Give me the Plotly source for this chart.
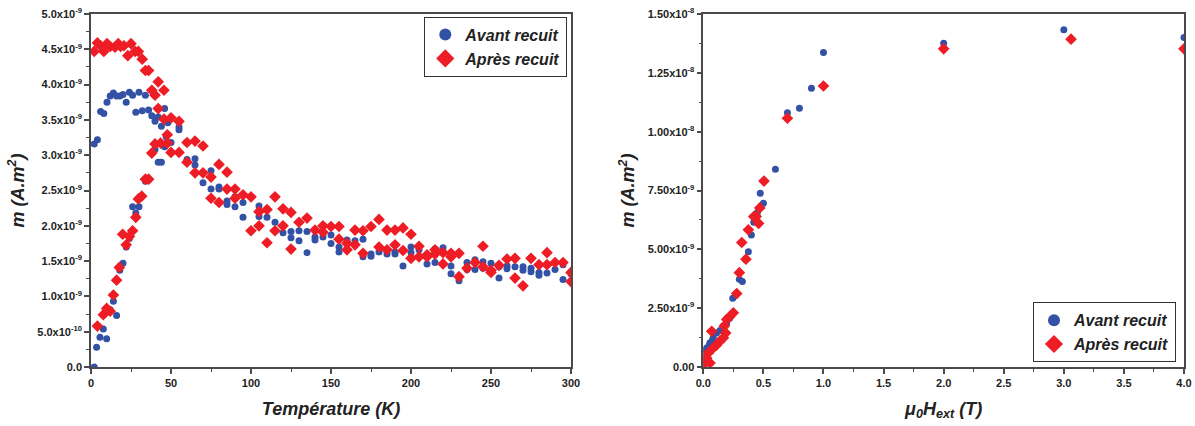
import plotly.graph_objects as go

# ---------------- Data (m in units of 1e-9 A.m^2) ----------------
# Left panel: m versus temperature
T_avant = [2, 4, 6, 8, 10, 12, 14, 16, 18, 20, 22, 24, 26, 28, 30, 32, 34, 36, 38, 40,
           42, 44, 46, 48, 55, 55, 60, 65, 65, 70, 75, 75, 80, 80, 85, 85, 90, 90, 95, 95,
           105, 105, 110, 115, 120, 125, 125, 130, 130, 135, 135, 140, 140, 145, 150, 150,
           155, 155, 160, 165, 170, 170, 175, 175, 180, 185, 190, 190, 195, 200, 200, 205,
           205, 210, 215, 215, 220, 220, 225, 225, 230, 235, 235, 240, 240, 245, 245, 250,
           255, 255, 260, 260, 265, 270, 270, 275, 275, 280, 280, 285, 290, 295, 295, 300,
           2, 3.5, 5.6, 7.7, 9.8, 12, 14, 16, 18, 20, 22, 24, 26, 28, 30, 34, 36, 40, 42, 44,
           46, 47, 50]
m_avant = [3.16, 3.22, 3.62, 3.59, 3.75, 3.84, 3.88, 3.84, 3.84, 3.86, 3.75, 3.89, 3.85, 3.61,
           3.89, 3.63, 3.85, 3.64, 3.56, 3.48, 3.54, 3.41, 3.66, 3.46, 3.40, 3.36, 2.94, 2.95,
           2.86, 2.61, 2.78, 2.52, 2.55, 2.52, 2.35, 2.30, 2.41, 2.27, 2.33, 2.12, 2.28, 2.13,
           2.12, 2.05, 1.90, 1.92, 1.83, 1.93, 1.79, 1.92, 1.62, 1.84, 1.80, 1.84, 1.87, 1.75,
           1.70, 1.63, 1.80, 1.79, 1.81, 1.56, 1.60, 1.57, 1.63, 1.60, 1.63, 1.60, 1.43, 1.70,
           1.62, 1.66, 1.56, 1.46, 1.48, 1.67, 1.69, 1.62, 1.43, 1.32, 1.22, 1.48, 1.38, 1.52,
           1.38, 1.49, 1.40, 1.47, 1.26, 1.42, 1.43, 1.39, 1.42, 1.42, 1.37, 1.40, 1.35, 1.34,
           1.30, 1.33, 1.38, 1.24, 1.45, 1.32,
           0.00, 0.28, 0.42, 0.54, 0.40, 0.81, 0.93, 0.73, 1.37, 1.47, 1.70, 1.82, 2.27, 2.18,
           2.27, 2.63, 2.65, 3.08, 2.90, 2.90, 3.12, 3.26, 3.18]

T_apres = [2, 4, 6, 8, 10, 12, 15, 17, 18.5, 20.6, 23, 25, 27.5, 29.6, 32, 34, 36, 38, 40,
           42, 42, 45.6, 45.6, 47.7, 50, 55, 60, 65, 70, 60, 65, 70, 75, 80, 85, 85, 90, 95,
           100, 105, 110, 115, 120, 125, 130, 135, 140, 145, 150, 155, 160, 165, 170, 175, 180,
           185, 190, 195, 200, 205, 210, 215, 220, 225, 230, 235, 240, 245, 250, 255, 260, 265,
           270, 275, 280, 285, 290, 295, 300,
           4, 7.7, 9.8, 12, 14, 16, 17.7, 19.8, 22, 24, 26, 28, 29.6, 31.7, 34, 36, 38, 40,
           43.5, 47.7, 50, 55, 75, 80, 90, 100, 105, 110, 115, 120, 125, 145, 155, 160, 165,
           170, 180, 185, 190, 195, 200, 205, 210, 215, 220, 225, 230, 245, 250, 265, 285, 300]
m_apres = [4.47, 4.59, 4.55, 4.47, 4.58, 4.54, 4.53, 4.58, 4.54, 4.55, 4.41, 4.58, 4.47, 4.47,
           4.36, 4.20, 4.20, 3.92, 3.85, 4.04, 3.66, 3.92, 3.51, 3.29, 3.53, 3.48, 3.18, 3.20,
           3.13, 2.90, 2.75, 2.75, 2.69, 2.87, 2.76, 2.52, 2.52, 2.44, 2.41, 2.20, 2.23, 2.41,
           2.24, 2.19, 2.05, 2.11, 1.94, 2.00, 1.99, 1.99, 1.75, 1.94, 1.93, 1.99, 2.09, 1.94,
           1.94, 1.97, 1.88, 1.71, 1.56, 1.66, 1.62, 1.61, 1.61, 1.40, 1.48, 1.71, 1.37, 1.44,
           1.53, 1.54, 1.15, 1.54, 1.45, 1.62, 1.48, 1.48, 1.34,
           0.58, 0.74, 0.83, 0.79, 1.02, 1.23, 1.41, 1.88, 1.73, 1.85, 1.93, 2.12, 2.38, 2.42,
           2.66, 2.66, 3.03, 3.16, 3.17, 3.17, 3.04, 3.04, 2.39, 2.33, 2.39, 1.93, 2.00, 1.76,
           1.93, 2.00, 1.67, 1.91, 1.81, 1.66, 1.73, 1.61, 1.70, 1.66, 1.73, 1.65, 1.54, 1.56,
           1.59, 1.60, 1.46, 1.56, 1.28, 1.42, 1.34, 1.26, 1.45, 1.21]

# Right panel: m versus applied field mu0*H_ext (T)
H_avant = [0.005, 0.014, 0.022, 0.028, 0.05, 0.056, 0.078, 0.083, 0.11, 0.139, 0.167,
           0.19, 0.195, 0.22, 0.245, 0.30, 0.325, 0.35, 0.375, 0.40, 0.42, 0.45, 0.474, 0.50,
           0.60, 0.70, 0.80, 0.90, 1.0, 2.0, 3.0, 4.0]
mH_avant = [0.10, 0.60, 0.74, 0.81, 0.93, 1.03, 1.17, 1.24, 1.45, 1.55, 1.74, 1.84, 1.88,
            2.07, 2.92, 3.73, 3.63, 4.58, 4.90, 5.61, 6.15, 6.57, 7.38, 6.96, 8.40, 10.80,
            10.99, 11.84, 13.36, 13.76, 14.33, 14.00]
H_apres = [0.005, 0.014, 0.028, 0.042, 0.056, 0.07, 0.083, 0.11, 0.139, 0.167, 0.175,
           0.186, 0.195, 0.216, 0.25, 0.278, 0.30, 0.32, 0.355, 0.375, 0.42, 0.44, 0.46,
           0.47, 0.505, 0.70, 1.0, 2.0, 3.06, 4.0]
mH_apres = [0.13, 0.30, 0.38, 0.60, 0.17, 1.52, 0.81, 0.93, 1.10, 1.24, 1.74, 1.45, 2.02,
            2.12, 2.30, 3.12, 4.01, 5.29, 4.58, 5.83, 6.39, 6.39, 6.10, 6.76, 7.90, 10.57,
            11.94, 13.52, 13.93, 13.52]

# Tick labels
left_yvals = [0, 0.5, 1.0, 1.5, 2.0, 2.5, 3.0, 3.5, 4.0, 4.5, 5.0]
left_ytext = ["0.0", "5.0x10<sup>-10</sup>", "1.0x10<sup>-9</sup>", "1.5x10<sup>-9</sup>",
              "2.0x10<sup>-9</sup>", "2.5x10<sup>-9</sup>", "3.0x10<sup>-9</sup>",
              "3.5x10<sup>-9</sup>", "4.0x10<sup>-9</sup>", "4.5x10<sup>-9</sup>",
              "5.0x10<sup>-9</sup>"]
right_yvals = [0, 2.5, 5.0, 7.5, 10.0, 12.5, 15.0]
right_ytext = ["0.00", "2.50x10<sup>-9</sup>", "5.00x10<sup>-9</sup>", "7.50x10<sup>-9</sup>",
               "1.00x10<sup>-8</sup>", "1.25x10<sup>-8</sup>", "1.50x10<sup>-8</sup>"]
left_xvals = [0, 50, 100, 150, 200, 250, 300]
right_xvals = [0.0, 0.5, 1.0, 1.5, 2.0, 2.5, 3.0, 3.5, 4.0]

names = ["Avant recuit", "Après recuit"]

# ---------------- Styling ----------------
BLUE = "#3352A5"
RED = "#EE1D25"
FONT = "Liberation Sans, Arial, sans-serif"
AX = "#4a4a4a"

fig = go.Figure()

# left panel
fig.add_trace(go.Scatter(x=T_avant, y=m_avant, mode="markers", name=names[0], showlegend=False,
                         marker=dict(symbol="circle", size=7, color=BLUE), xaxis="x", yaxis="y"))
fig.add_trace(go.Scatter(x=T_apres, y=m_apres, mode="markers", name=names[1], showlegend=False,
                         marker=dict(symbol="diamond", size=9, color=RED), xaxis="x", yaxis="y"))
# right panel
fig.add_trace(go.Scatter(x=H_avant, y=mH_avant, mode="markers", name=names[0], showlegend=False,
                         marker=dict(symbol="circle", size=7, color=BLUE), xaxis="x2", yaxis="y2"))
fig.add_trace(go.Scatter(x=H_apres, y=mH_apres, mode="markers", name=names[1], showlegend=False,
                         marker=dict(symbol="diamond", size=9, color=RED), xaxis="x2", yaxis="y2"))

# legend entries (larger symbols, as in the reference)
for lg, xa, ya in (("legend", "x", "y"), ("legend2", "x2", "y2")):
    fig.add_trace(go.Scatter(x=[None], y=[None], mode="markers", name=names[0], legend=lg,
                             marker=dict(symbol="circle", size=12, color=BLUE), xaxis=xa, yaxis=ya))
    fig.add_trace(go.Scatter(x=[None], y=[None], mode="markers", name=names[1], legend=lg,
                             marker=dict(symbol="diamond", size=14, color=RED), xaxis=xa, yaxis=ya))

tickfont = dict(family=FONT, size=11, color="#222", weight="bold")
titlefont = dict(family=FONT, size=18, color="#222", weight="bold", style="italic")


def axis(**kw):
    d = dict(showline=True, linecolor=AX, linewidth=1.5, mirror=True, ticks="outside",
             ticklen=5, tickwidth=1.5, tickcolor=AX, showgrid=False, zeroline=False,
             tickfont=tickfont, automargin=False)
    d.update(kw)
    return d


L = 91
R = 11
T = 14
B = 59
W = 1195 - L - R
H = 426 - T - B
left_dom = [0, 480 / W]
right_dom = [(703.3 - L) / W, 1]

fig.update_layout(
    width=1195, height=426,
    margin=dict(l=L, r=R, t=T, b=B),
    paper_bgcolor="white", plot_bgcolor="white",
    font=dict(family=FONT, color="#222"),
    xaxis=axis(domain=left_dom, range=[0, 300], tickvals=left_xvals,
               minor=dict(ticks="outside", ticklen=3, tickwidth=1.2, tickcolor=AX,
                          tickvals=[25, 75, 125, 175, 225, 275]),
               title=dict(text="Température (K)", font=titlefont, standoff=14)),
    yaxis=axis(domain=[0, 1], range=[0, 5.0], tickvals=left_yvals, ticktext=left_ytext,
               minor=dict(ticks="outside", ticklen=3, tickwidth=1.2, tickcolor=AX,
                          tickvals=[0.25, 0.75, 1.25, 1.75, 2.25, 2.75, 3.25, 3.75, 4.25, 4.75]),
               title=dict(text="m (A.m<sup>2</sup>)", font=titlefont, standoff=8)),
    xaxis2=axis(domain=right_dom, range=[0, 4.0], tickvals=right_xvals, tickformat=".1f",
                anchor="y2",
                minor=dict(ticks="outside", ticklen=3, tickwidth=1.2, tickcolor=AX,
                           tickvals=[0.25, 0.75, 1.25, 1.75, 2.25, 2.75, 3.25, 3.75]),
                title=dict(text="μ<sub>0</sub>H<sub>ext</sub> (T)", font=titlefont, standoff=14)),
    yaxis2=axis(domain=[0, 1], range=[0, 15.0], tickvals=right_yvals, ticktext=right_ytext,
                anchor="x2",
                minor=dict(ticks="outside", ticklen=3, tickwidth=1.2, tickcolor=AX,
                           tickvals=[1.25, 3.75, 6.25, 8.75, 11.25, 13.75]),
                title=dict(text="m (A.m<sup>2</sup>)", font=titlefont, standoff=8)),
    legend=dict(x=(567.3 - L) / W, xanchor="right", y=(426 - B - 16.7) / H,
                yanchor="top", bgcolor="white", bordercolor="#333", borderwidth=1,
                font=dict(family=FONT, size=16, color="#222", weight="bold", style="italic"),
                tracegroupgap=0),
    legend2=dict(x=(1176 - L) / W, xanchor="right", y=(426 - B - 362.3) / H, yanchor="bottom",
                 bgcolor="white", bordercolor="#333", borderwidth=1,
                 font=dict(family=FONT, size=16, color="#222", weight="bold", style="italic"),
                 tracegroupgap=0),
)

fig.write_html("out.html", config={"displayModeBar": False},
               post_script="document.body.style.margin='0';")
